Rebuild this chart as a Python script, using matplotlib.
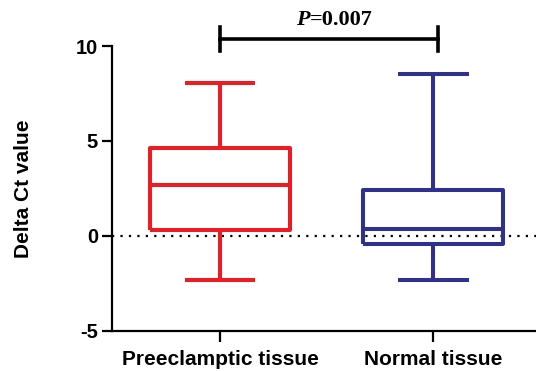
import matplotlib
matplotlib.use('Agg')
import matplotlib.pyplot as plt

plt.rcParams['font.family'] = ['Liberation Sans', 'DejaVu Sans']
plt.rcParams['axes.unicode_minus'] = False

groups = ['Preeclamptic tissue', 'Normal tissue']
colors = ['#ED1C24', '#2E3192']
whislo = [-2.33, -2.32]
q1 = [0.30, -0.40]
med = [2.67, 0.39]
q3 = [4.65, 2.42]
whishi = [8.07, 8.51]
p_text = '=0.007'

fig = plt.figure(figsize=(5.36, 3.71), dpi=100)
ax = fig.add_axes([0.209, 0.108, 0.791, 0.768])

stats = []
for i in range(len(groups)):
    stats.append({'label': groups[i], 'whislo': whislo[i], 'q1': q1[i],
                  'med': med[i], 'q3': q3[i], 'whishi': whishi[i]})

for i in range(len(groups)):
    lp = dict(color=colors[i], linewidth=2.9, solid_capstyle='butt')
    ax.bxp([stats[i]], positions=[i], widths=0.655, capwidths=0.33,
           showfliers=False, boxprops=lp, whiskerprops=lp, capprops=lp,
           medianprops=lp)

# zero reference line
ax.axhline(0, color='black', linestyle=(0, (1, 2.8)), linewidth=1.6, zorder=0)

ax.set_xlim(-0.506, 1.481)
ax.set_ylim(-5, 10)
ax.set_yticks([-5, 0, 5, 10])
ax.set_xticks([0, 1])
ax.set_xticklabels(groups, fontsize=15, fontweight='bold')
for lab in ax.get_yticklabels():
    lab.set_fontweight('bold')
ax.tick_params(axis='y', labelsize=14.5, width=1.6, length=7, pad=3)
ax.tick_params(axis='x', width=1.6, length=8, pad=6)

ax.spines['top'].set_visible(False)
ax.spines['right'].set_visible(False)
ax.spines['left'].set_linewidth(1.6)
ax.spines['bottom'].set_linewidth(1.6)

ax.set_ylabel('Delta Ct value', fontsize=15, fontweight='bold')
ax.yaxis.set_label_coords(-0.186, 0.5)

# significance bracket
bx = [0.0, 1.02]
ax.plot(bx, [10.35, 10.35], color='black', linewidth=2.6, clip_on=False)
for x in bx:
    ax.plot([x, x], [9.72, 10.98], color='black', linewidth=2.6, clip_on=False)
ax.text(0.42, 11.09, 'P', fontsize=16, fontweight='bold', style='italic',
        family='Liberation Serif', ha='right', va='baseline')
ax.text(0.42, 11.09, p_text, fontsize=16, fontweight='bold',
        family='Liberation Serif', ha='left', va='baseline')

fig.savefig('out.png', dpi=100)
